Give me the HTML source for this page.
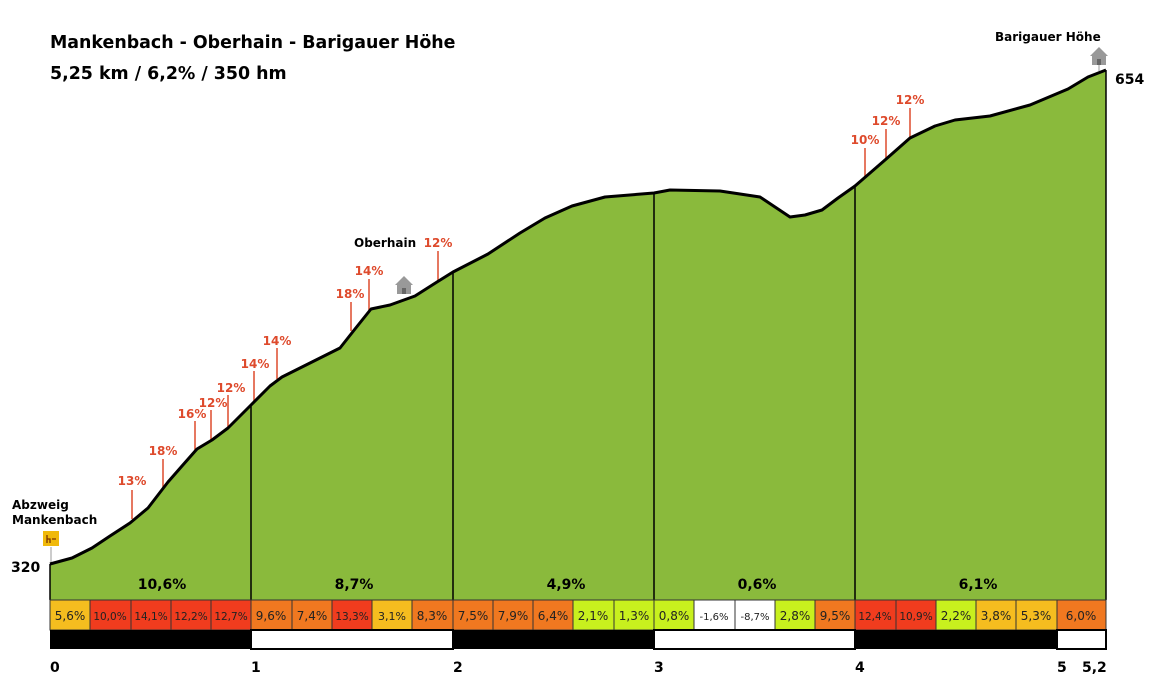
<!DOCTYPE html>
<html><head><meta charset="utf-8"><style>
html,body{margin:0;padding:0;background:#fff;}
svg{display:block;font-family:"DejaVu Sans","Liberation Sans",sans-serif;}
.r{fill:#de4a2c;font-weight:bold;font-size:12px;text-anchor:middle;}
.b{fill:#000;font-weight:bold;}
</style></head><body>
<svg width="1157" height="691" viewBox="0 0 1157 691" xmlns="http://www.w3.org/2000/svg">
<rect width="1157" height="691" fill="#fff"/>
<text x="50" y="48" class="b" font-size="17.4">Mankenbach - Oberhain - Barigauer Höhe</text>
<text x="50" y="79" class="b" font-size="17.4">5,25 km / 6,2% / 350 hm</text>

<g stroke="#de4a2c" stroke-width="1.5">
<line x1="132" y1="490" x2="132" y2="519"/>
<line x1="163" y1="459" x2="163" y2="487"/>
<line x1="195" y1="421" x2="195" y2="452"/>
<line x1="211" y1="410" x2="211" y2="440"/>
<line x1="228" y1="395" x2="228" y2="428"/>
<line x1="254" y1="371" x2="254" y2="402"/>
<line x1="277" y1="348" x2="277" y2="379"/>
<line x1="351" y1="302" x2="351" y2="331"/>
<line x1="369" y1="279" x2="369" y2="310"/>
<line x1="438" y1="251" x2="438" y2="282"/>
<line x1="865" y1="148" x2="865" y2="177"/>
<line x1="886" y1="129" x2="886" y2="158"/>
<line x1="910" y1="108" x2="910" y2="138"/>
</g>
<line x1="51" y1="547" x2="51" y2="565" stroke="#bbb" stroke-width="1.5"/>
<line x1="1099" y1="65" x2="1099" y2="71" stroke="#bbb" stroke-width="1.5"/>

<path d="M50,564 L72,558 L92,548 L110,536 L130,523 L148,508 L168,482 L182,466 L197,449 L212,440 L228,428 L251,405 L270,386 L282,377 L300,368 L320,358 L340,348 L355,329 L371,309 L390,305 L415,296 L437,282 L453,272 L488,254 L520,233 L545,218 L572,206 L605,197 L654,193 L670,190 L720,191 L760,197 L790,217 L805,215 L822,210 L838,198 L855,186 L885,160 L910,138 L935,126 L955,120 L990,116 L1030,105 L1068,89 L1088,77 L1106,70 L1106,600 L50,600 Z" fill="#8aba3c"/>
<path d="M50,564 L72,558 L92,548 L110,536 L130,523 L148,508 L168,482 L182,466 L197,449 L212,440 L228,428 L251,405 L270,386 L282,377 L300,368 L320,358 L340,348 L355,329 L371,309 L390,305 L415,296 L437,282 L453,272 L488,254 L520,233 L545,218 L572,206 L605,197 L654,193 L670,190 L720,191 L760,197 L790,217 L805,215 L822,210 L838,198 L855,186 L885,160 L910,138 L935,126 L955,120 L990,116 L1030,105 L1068,89 L1088,77 L1106,70" fill="none" stroke="#000" stroke-width="3" stroke-linejoin="round"/>
<g stroke="#000" stroke-width="1.5">
<line x1="50" y1="564" x2="50" y2="600"/>
<line x1="251" y1="405" x2="251" y2="600"/>
<line x1="453" y1="272" x2="453" y2="600"/>
<line x1="654" y1="193" x2="654" y2="600"/>
<line x1="855" y1="186" x2="855" y2="600"/>
<line x1="1106" y1="70" x2="1106" y2="600"/>
</g>

<g class="r">
<text x="132" y="485">13%</text><text x="163" y="455">18%</text><text x="192" y="418">16%</text>
<text x="213" y="407">12%</text><text x="231" y="392">12%</text><text x="255" y="368">14%</text>
<text x="277" y="345">14%</text><text x="350" y="298">18%</text><text x="369" y="275">14%</text>
<text x="438" y="247">12%</text><text x="865" y="144">10%</text><text x="886" y="125">12%</text>
<text x="910" y="104">12%</text>
</g>
<text x="354" y="247" class="b" font-size="12">Oberhain</text>
<text x="12" y="509" class="b" font-size="12">Abzweig</text>
<text x="12" y="524" class="b" font-size="12">Mankenbach</text>
<text x="995" y="41" class="b" font-size="12">Barigauer Höhe</text>
<text x="11" y="572" class="b" font-size="14">320</text>
<text x="1115" y="84" class="b" font-size="14">654</text>

<rect x="43" y="531" width="16" height="15" fill="#f0b90b"/>
<path d="M47,535 v8 M47,539 h3 v4 M52,539 h4" stroke="#7a3300" stroke-width="1.3" fill="none"/>
<g fill="#999">
<path d="M395,285 l9,-9 l9,9 z"/><rect x="397" y="284" width="14" height="10"/>
<path d="M1090,56 l9,-9 l9,9 z"/><rect x="1092" y="55" width="14" height="10"/>
</g>
<rect x="402" y="288" width="4" height="6" fill="#666"/>
<rect x="1097" y="59" width="4" height="6" fill="#666"/>

<g class="b" font-size="14" text-anchor="middle">
<text x="162" y="589">10,6%</text><text x="354" y="589">8,7%</text><text x="566" y="589">4,9%</text>
<text x="757" y="589">0,6%</text><text x="978" y="589">6,1%</text>
</g>

<g stroke="#333" stroke-width="1" font-size="12" text-anchor="middle">
<rect x="50" y="600" width="40" height="30" fill="#f5bd1f"/>
<rect x="90" y="600" width="41" height="30" fill="#f03c1e"/>
<rect x="131" y="600" width="40" height="30" fill="#f03c1e"/>
<rect x="171" y="600" width="40" height="30" fill="#f03c1e"/>
<rect x="211" y="600" width="40" height="30" fill="#f03c1e"/>
<rect x="251" y="600" width="41" height="30" fill="#f07820"/>
<rect x="292" y="600" width="40" height="30" fill="#f07820"/>
<rect x="332" y="600" width="40" height="30" fill="#f03c1e"/>
<rect x="372" y="600" width="40" height="30" fill="#f5bd1f"/>
<rect x="412" y="600" width="41" height="30" fill="#f07820"/>
<rect x="453" y="600" width="40" height="30" fill="#f07820"/>
<rect x="493" y="600" width="40" height="30" fill="#f07820"/>
<rect x="533" y="600" width="40" height="30" fill="#f07820"/>
<rect x="573" y="600" width="41" height="30" fill="#c8f01e"/>
<rect x="614" y="600" width="40" height="30" fill="#c8f01e"/>
<rect x="654" y="600" width="40" height="30" fill="#c8f01e"/>
<rect x="694" y="600" width="41" height="30" fill="#fff"/>
<rect x="735" y="600" width="40" height="30" fill="#fff"/>
<rect x="775" y="600" width="40" height="30" fill="#c8f01e"/>
<rect x="815" y="600" width="40" height="30" fill="#f07820"/>
<rect x="855" y="600" width="41" height="30" fill="#f03c1e"/>
<rect x="896" y="600" width="40" height="30" fill="#f03c1e"/>
<rect x="936" y="600" width="40" height="30" fill="#c8f01e"/>
<rect x="976" y="600" width="40" height="30" fill="#f5bd1f"/>
<rect x="1016" y="600" width="41" height="30" fill="#f5bd1f"/>
<rect x="1057" y="600" width="49" height="30" fill="#f07820"/>
</g>
<g font-size="12" text-anchor="middle" fill="#222">
<text x="70" y="620">5,6%</text><text x="110" y="620" font-size="10.5">10,0%</text>
<text x="151" y="620" font-size="10.5">14,1%</text><text x="191" y="620" font-size="10.5">12,2%</text>
<text x="231" y="620" font-size="10.5">12,7%</text><text x="271" y="620">9,6%</text>
<text x="312" y="620">7,4%</text><text x="352" y="620" font-size="10.5">13,3%</text>
<text x="392" y="620" font-size="11">3,1%</text><text x="432" y="620">8,3%</text>
<text x="473" y="620">7,5%</text><text x="513" y="620">7,9%</text><text x="553" y="620">6,4%</text>
<text x="593" y="620">2,1%</text><text x="634" y="620">1,3%</text><text x="674" y="620">0,8%</text>
<text x="714" y="620" font-size="10">-1,6%</text><text x="755" y="620" font-size="10">-8,7%</text>
<text x="795" y="620">2,8%</text><text x="835" y="620">9,5%</text>
<text x="875" y="620" font-size="10.5">12,4%</text><text x="916" y="620" font-size="10.5">10,9%</text>
<text x="956" y="620">2,2%</text><text x="996" y="620">3,8%</text><text x="1036" y="620">5,3%</text>
<text x="1081" y="620">6,0%</text>
</g>

<rect x="50" y="630" width="201" height="19" fill="#000"/>
<rect x="251" y="630" width="202" height="19" fill="#fff" stroke="#000" stroke-width="2"/>
<rect x="453" y="630" width="201" height="19" fill="#000"/>
<rect x="654" y="630" width="201" height="19" fill="#fff" stroke="#000" stroke-width="2"/>
<rect x="855" y="630" width="202" height="19" fill="#000"/>
<rect x="1057" y="630" width="49" height="19" fill="#fff" stroke="#000" stroke-width="2"/>

<g class="b" font-size="14">
<text x="50" y="672">0</text><text x="251" y="672">1</text><text x="453" y="672">2</text>
<text x="654" y="672">3</text><text x="855" y="672">4</text><text x="1057" y="672">5</text>
<text x="1082" y="672">5,2</text>
</g>
</svg>
</body></html>
